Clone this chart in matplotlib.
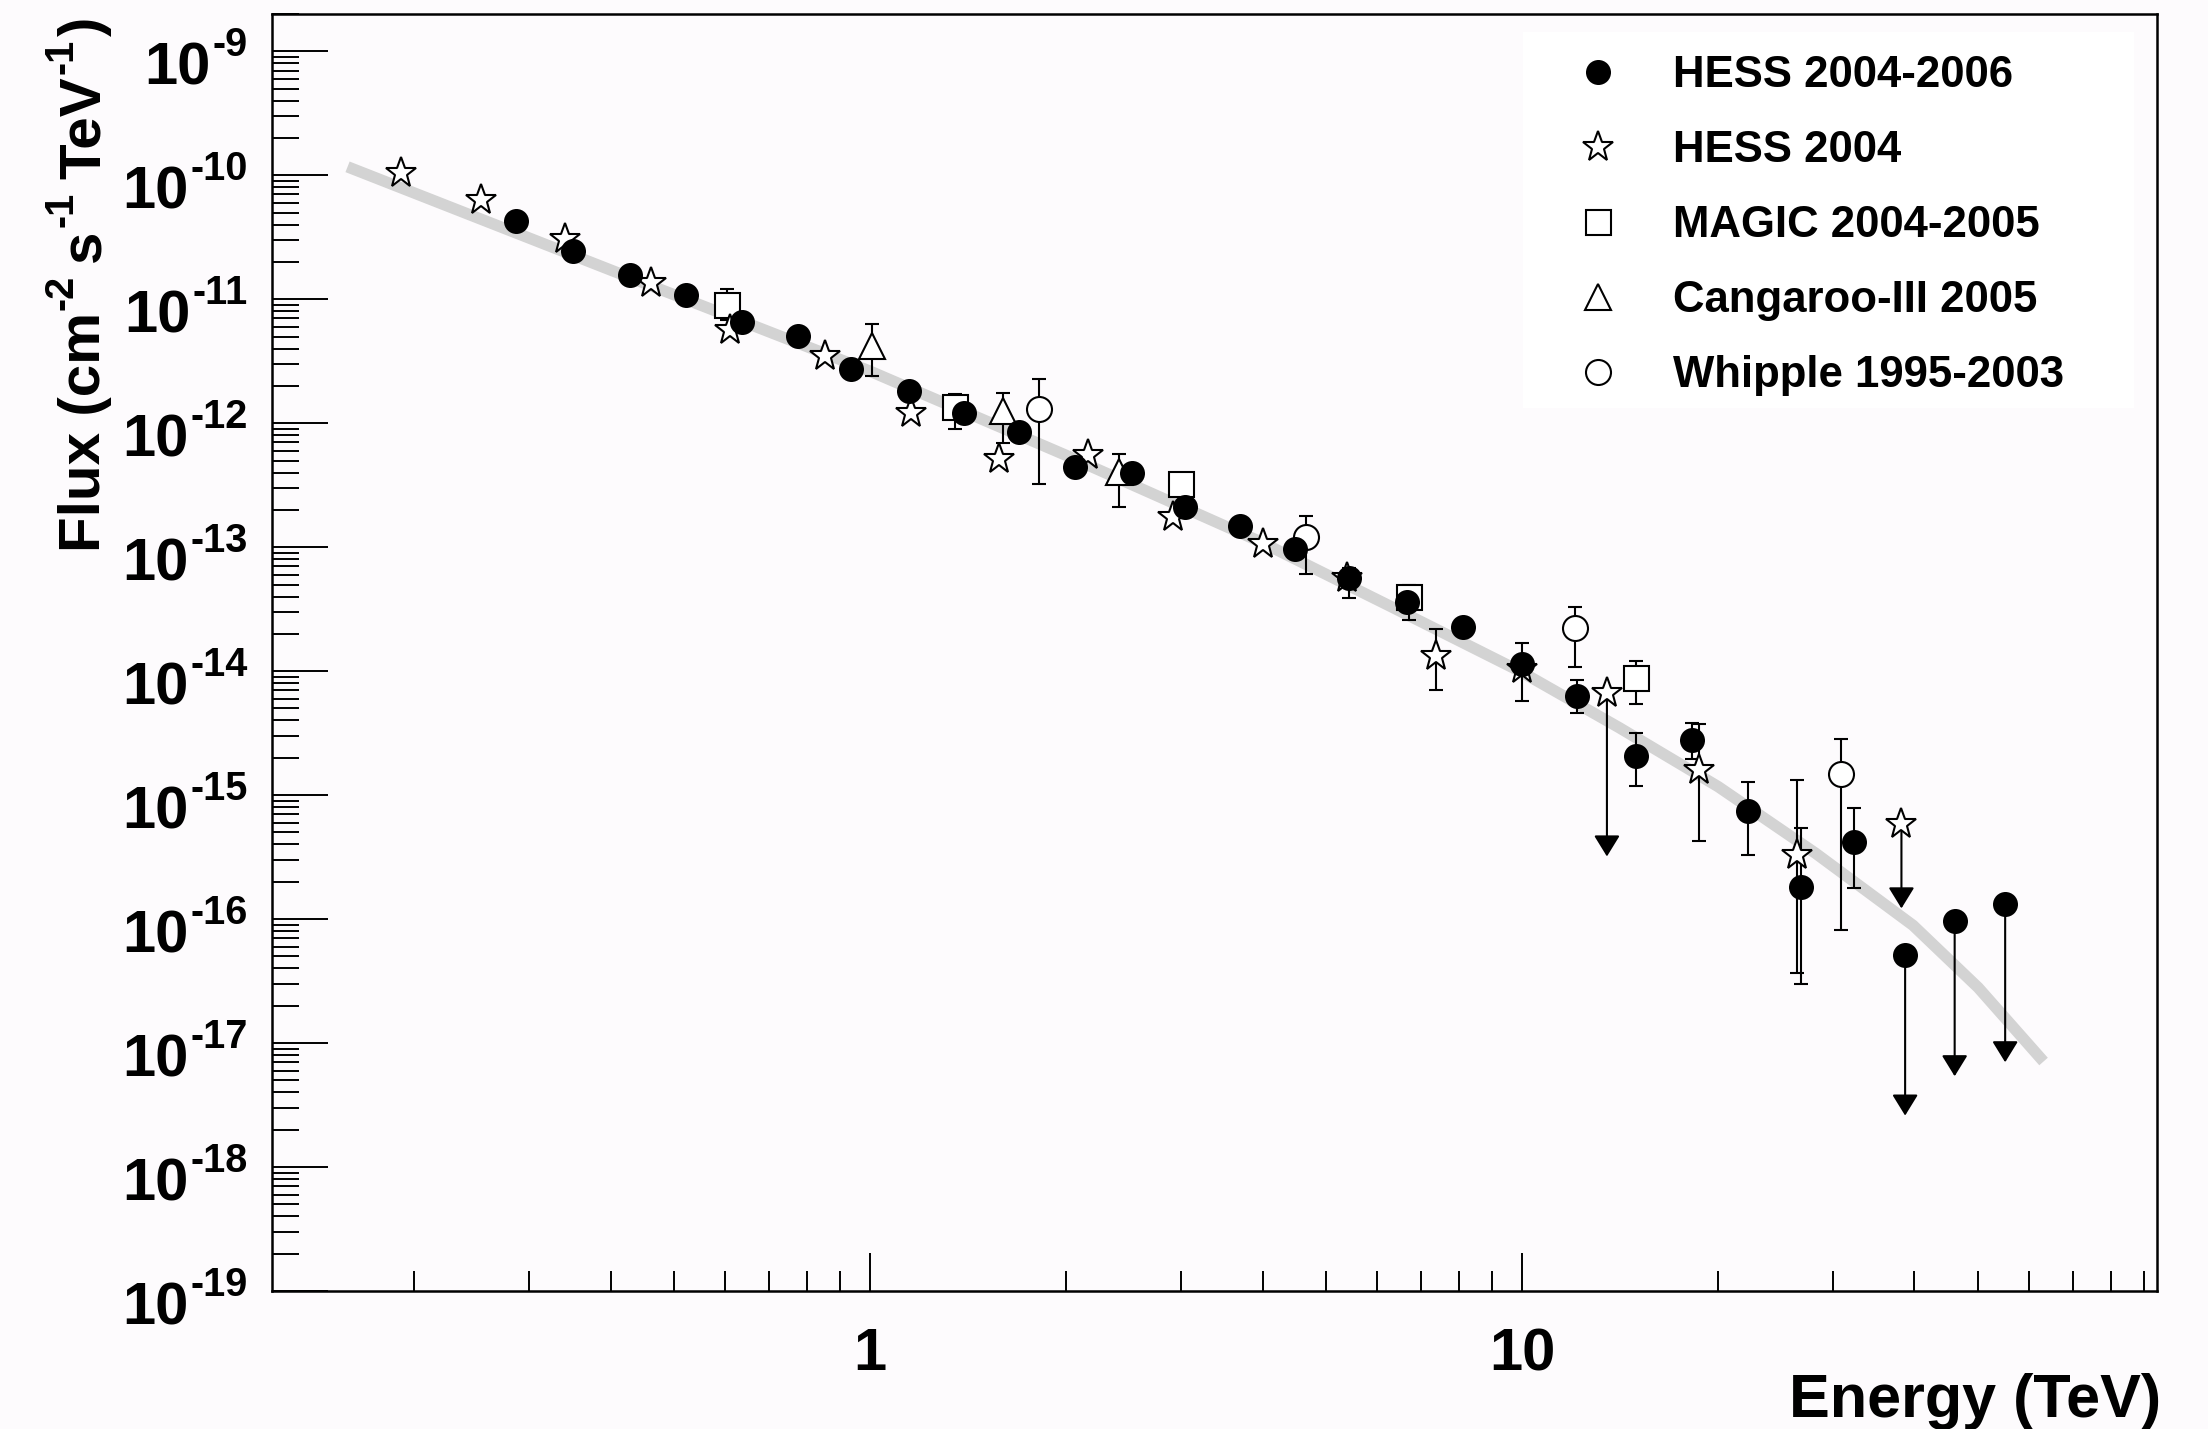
import numpy as np
import matplotlib
matplotlib.use('Agg')
import matplotlib.pyplot as plt
from matplotlib.ticker import LogLocator, FuncFormatter, NullFormatter
from matplotlib.patches import Rectangle

plt.rcParams['font.family'] = ['Liberation Sans', 'DejaVu Sans']
plt.rcParams['font.weight'] = 'bold'

nan = np.nan

# HESS 2004-2006 (filled circles); lo/hi = error bar ends, nan where hidden
hess06_e = [0.286, 0.350, 0.428, 0.522, 0.636, 0.776, 0.935, 1.149, 1.395, 1.694,
            2.063, 2.52, 3.04, 3.70, 4.48, 5.43, 6.66, 8.11, 10.0, 12.13,
            14.95, 18.2, 22.2, 26.8, 32.3]
hess06_f = [4.26e-11, 2.45e-11, 1.57e-11, 1.08e-11, 6.5e-12, 5.06e-12, 2.74e-12, 1.82e-12, 1.22e-12, 8.5e-13,
            4.47e-13, 4.0e-13, 2.11e-13, 1.48e-13, 9.6e-14, 5.69e-14, 3.58e-14, 2.25e-14, 1.14e-14, 6.3e-15,
            2.07e-15, 2.79e-15, 7.4e-16, 1.8e-16, 4.18e-16]
hess06_lo = [nan] * 15 + [3.9e-14, nan, nan, 5.77e-15, 4.57e-15,
                          1.19e-15, 1.95e-15, 3.3e-16, 2.98e-17, 1.77e-16]
hess06_hi = [nan] * 15 + [6.8e-14, nan, nan, 1.68e-14, 8.45e-15,
                          3.2e-15, 3.85e-15, 1.28e-15, 5.4e-16, 7.85e-16]
# upper limits: flux value and where the arrow ends
hess06_ul_e = [38.7, 46.1, 55.1]
hess06_ul_f = [5.1e-17, 9.7e-17, 1.32e-16]
hess06_ul_end = [2.6e-18, 5.4e-18, 7.0e-18]

# HESS 2004 (open stars)
hess04_e = [0.191, 0.253, 0.340, 0.461, 0.61, 0.853, 1.156, 1.578, 2.157, 2.92,
            4.0, 5.4, 7.38, 10.0, 18.7, 26.4]
hess04_f = [1.05e-10, 6.3e-11, 3.05e-11, 1.35e-11, 5.7e-12, 3.49e-12, 1.22e-12, 5.1e-13, 5.5e-13, 1.74e-13,
            1.06e-13, 5.6e-14, 1.33e-14, 1.05e-14, 1.59e-15, 3.3e-16]
hess04_lo = [nan] * 12 + [7.0e-15, nan, 4.27e-16, 3.7e-17]
hess04_hi = [nan] * 12 + [2.18e-14, nan, 3.74e-15, 1.33e-15]
hess04_ul_e = [13.5, 38.2]
hess04_ul_f = [6.7e-15, 5.9e-16]
hess04_ul_end = [3.2e-16, 1.22e-16]

# MAGIC 2004-2005 (open squares)
magic_e = [0.603, 1.349, 3.0, 6.72, 14.95]
magic_f = [9.0e-12, 1.34e-12, 3.22e-13, 3.93e-14, 8.73e-15]
magic_lo = [6.8e-12, 8.95e-13, nan, 2.6e-14, 5.42e-15]
magic_hi = [1.22e-11, 1.71e-12, nan, 5.0e-14, 1.21e-14]

# Cangaroo-III 2005 (open triangles)
cang_e = [1.006, 1.598, 2.413]
cang_f = [4.2e-12, 1.26e-12, 4.04e-13]
cang_lo = [2.4e-12, 6.98e-13, 2.11e-13]
cang_hi = [6.3e-12, 1.75e-12, 5.6e-13]

# Whipple 1995-2003 (open circles)
whip_e = [1.818, 4.67, 12.06, 30.9]
whip_f = [1.31e-12, 1.2e-13, 2.21e-14, 1.47e-15]
whip_lo = [3.22e-13, 6.05e-14, 1.09e-14, 8.1e-17]
whip_hi = [2.29e-12, 1.79e-13, 3.27e-14, 2.86e-15]

# spectral model
fit_e = [0.158, 0.398, 1.0, 2.0, 3.98, 6.31, 10.0, 14.1, 20.0, 28.2, 39.8, 50.1, 63.1]
fit_f = [1.17e-10, 1.74e-11, 2.63e-12, 5.5e-13, 1.1e-13, 3.3e-14, 9.8e-15,
         3.5e-15, 1.17e-15, 3.4e-16, 8.9e-17, 2.8e-17, 7.1e-18]

decades = list(range(-19, -8))

W, H = 2208, 1429
fig = plt.figure(figsize=(W / 100, H / 100), dpi=100, facecolor='#fdfbfd')
ax = fig.add_axes([272 / W, 1 - 1291 / H, (2157 - 272) / W, (1291 - 14) / H])
ax.set_facecolor('#fdfbfd')
ax.set_xscale('log')
ax.set_yscale('log')
ax.set_xlim(0.121, 94.2)
ax.set_ylim(1e-19, 2e-9)

ax.plot(fit_e, fit_f, color='#d3d3d3', lw=8.2, solid_capstyle='butt',
        solid_joinstyle='round', zorder=1)


def bars(e, f, lo, hi, z):
    e, f, lo, hi = map(np.asarray, (e, f, lo, hi))
    m = ~np.isnan(lo)
    ax.errorbar(e[m], f[m], yerr=[f[m] - lo[m], hi[m] - f[m]], fmt='none',
                ecolor='black', elinewidth=1.5, capsize=4.7, capthick=1.5, zorder=z)


def limits(e, f, end, z):
    for x, y0, y1 in zip(e, f, end):
        ax.annotate('', xy=(x, y1), xytext=(x, y0),
                    arrowprops=dict(arrowstyle='-|>,head_length=1.3,head_width=0.8',
                                    mutation_scale=10, color='black', lw=1.5,
                                    shrinkA=0, shrinkB=0), zorder=z)


bars(magic_e, magic_f, magic_lo, magic_hi, 2)
bars(cang_e, cang_f, cang_lo, cang_hi, 2)
bars(whip_e, whip_f, whip_lo, whip_hi, 2)
bars(hess04_e, hess04_f, hess04_lo, hess04_hi, 2)
bars(hess06_e, hess06_f, hess06_lo, hess06_hi, 2)
limits(hess04_ul_e, hess04_ul_f, hess04_ul_end, 2)
limits(hess06_ul_e, hess06_ul_f, hess06_ul_end, 2)

mk = dict(ls='none', mec='black', mew=1.5)
h_magic, = ax.plot(magic_e, magic_f, marker='s', ms=18, mfc='white', zorder=3,
                   label='MAGIC 2004-2005', **mk)
h_cang, = ax.plot(cang_e, cang_f, marker='^', ms=19, mfc='white', zorder=3,
                  label='Cangaroo-III 2005', **mk)
h_whip, = ax.plot(whip_e, whip_f, marker='o', ms=18, mfc='white', zorder=3,
                  label='Whipple 1995-2003', **mk)
h_04, = ax.plot(hess04_e + hess04_ul_e, hess04_f + hess04_ul_f, marker='*', ms=23,
                mfc='white', zorder=3.5, label='HESS 2004', **mk)
h_06, = ax.plot(hess06_e + hess06_ul_e, hess06_f + hess06_ul_f, marker='o', ms=16.5,
                mfc='black', zorder=4, label='HESS 2004-2006', **mk)

# axes and ticks
for s in ax.spines.values():
    s.set_linewidth(1.8)
ax.xaxis.set_major_locator(LogLocator(base=10, numticks=30))
ax.xaxis.set_minor_locator(LogLocator(base=10, subs=np.arange(2, 10), numticks=30))
ax.xaxis.set_major_formatter(FuncFormatter(lambda v, p: '%g' % v))
ax.xaxis.set_minor_formatter(NullFormatter())
ax.yaxis.set_major_locator(LogLocator(base=10, numticks=30))
ax.yaxis.set_minor_locator(LogLocator(base=10, subs=np.arange(2, 10), numticks=30))
ax.yaxis.set_major_formatter(NullFormatter())
ax.yaxis.set_minor_formatter(NullFormatter())

ax.tick_params(axis='x', which='major', direction='in', length=27.4, width=1.4,
               labelsize=43, pad=26)
ax.tick_params(axis='x', which='minor', direction='in', length=14.4, width=1.4)
ax.tick_params(axis='y', which='major', direction='in', length=40.3, width=1.4)
ax.tick_params(axis='y', which='minor', direction='in', length=19.4, width=1.4)

renderer = fig.canvas.get_renderer()
BIG, SMALL, RISE = 43, 28.5, 28


def text_len(s, size):
    t = fig.text(0, 0, s, fontsize=size, fontweight='bold')
    w = t.get_window_extent(renderer).width
    t.remove()
    return w


def rich(x, y, parts, vertical=False):
    # parts: (text, size, rise, gap before) laid out along a shared baseline, pixels
    pos = 0.0
    for s, size, rise, gap in parts:
        pos += gap
        if vertical:
            fig.text((x - rise) / W, (y + pos) / H, s, fontsize=size, fontweight='bold',
                     rotation=90, rotation_mode='anchor', ha='left', va='baseline')
        else:
            fig.text((x + pos) / W, (y + rise) / H, s, fontsize=size, fontweight='bold',
                     ha='left', va='baseline')
        pos += text_len(s, size)


# y tick labels written as 10 with a raised exponent, right aligned
for k in decades:
    y_tick = ax.transData.transform((1.0, 10.0 ** k))[1]
    parts = [('10', BIG, 0, 0), ('-%d' % -k, SMALL, RISE, 2)]
    total = sum(text_len(s, sz) + g for s, sz, r, g in parts)
    rich(248 - total, y_tick - 33, parts)

fig.text(2161 / W, 1 - 1417 / H, 'Energy (TeV)', ha='right', va='baseline',
         fontsize=44, fontweight='bold')
LAB, sp = 42, 13
rich(100, H - 552, [('Flux (cm', LAB, 0, 0), ('-2', SMALL, RISE, 2),
                    ('s', LAB, 0, sp), ('-1', SMALL, RISE, 2),
                    ('TeV', LAB, 0, sp), ('-1', SMALL, RISE, 2),
                    (')', LAB, 0, 3)], vertical=True)

# legend on a plain white patch
ax.add_patch(Rectangle((1523 / W, 1 - 408 / H), (2134 - 1523) / W, (408 - 32) / H,
                       transform=fig.transFigure, facecolor='white', edgecolor='none',
                       zorder=0.5))
ax.legend(handles=[h_06, h_04, h_magic, h_cang, h_whip], loc='upper left',
          bbox_to_anchor=(1572 / W, 1 - 55 / H), bbox_transform=fig.transFigure,
          frameon=False, borderpad=0, borderaxespad=0, handlelength=1.2,
          handletextpad=1.10, labelspacing=0.78, fontsize=31.5, numpoints=1)

fig.savefig('out.png', dpi=100, facecolor=fig.get_facecolor())
